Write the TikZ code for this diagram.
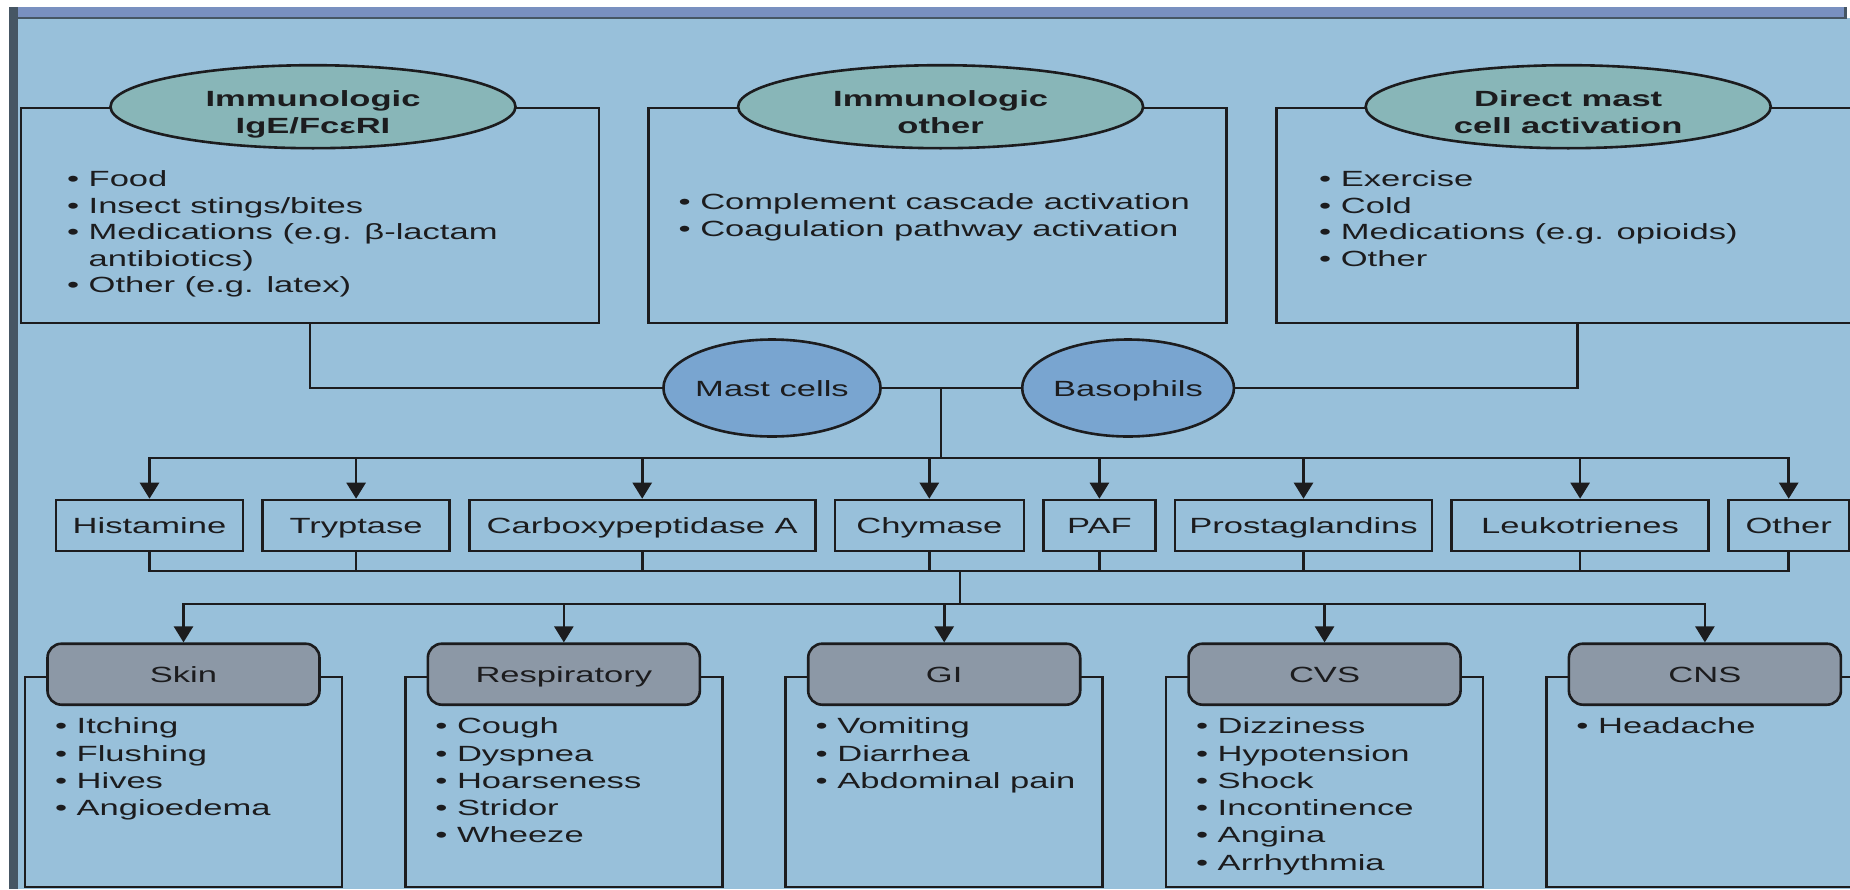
\documentclass[tikz,border=0pt]{standalone}
\usepackage{fontspec}
\setmainfont{Liberation Sans}
\usepackage{graphicx}
\usetikzlibrary{positioning,arrows.meta,shapes.geometric}

\definecolor{ink}{RGB}{28,28,30}
\definecolor{bgblue}{RGB}{152,192,218}
\definecolor{bandblue}{RGB}{121,144,192}
\definecolor{framegray}{RGB}{70,86,100}
\definecolor{headteal}{RGB}{136,182,184}
\definecolor{cellblue}{RGB}{121,165,208}
\definecolor{organgray}{RGB}{140,152,166}

\newcommand{\xs}[1]{\scalebox{1.57}[1]{#1}}
\newcommand{\bl}[1]{\xs{\begin{tabular}[t]{@{}l@{}}#1\end{tabular}}}
\newcommand{\hd}[1]{\xs{\begin{tabular}[t]{@{}c@{}}#1\end{tabular}}}
\newcommand{\bul}{\textbullet\ }

\begin{document}
\begin{tikzpicture}[x=1pt, y=-1pt, line width=2.6pt,
  srcbox/.style={draw=ink, minimum width=578pt, minimum height=215pt, inner sep=0pt},
  srchead/.style={draw=ink, ellipse, fill=headteal, minimum width=405pt, minimum height=83pt, inner sep=0pt},
  headtxt/.style={anchor=base, text=ink, inner sep=0pt, font=\fontsize{22}{27}\selectfont\bfseries},
  srclist/.style={anchor=base west, text=ink, inner sep=0pt, font=\fontsize{22}{26.5}\selectfont},
  cell/.style={draw=ink, ellipse, fill=cellblue, minimum width=193pt, minimum height=97pt, inner sep=0pt,
    text=ink, font=\fontsize{22}{26}\selectfont, text height=16pt, text depth=0pt},
  med/.style={draw=ink, minimum height=51pt, inner sep=0pt, text=ink,
    font=\fontsize{22}{26}\selectfont, text height=16pt, text depth=0pt},
  orgbox/.style={draw=ink, minimum width=317pt, minimum height=210pt, inner sep=0pt},
  orghead/.style={draw=ink, fill=organgray, rounded corners=14pt, minimum width=272pt, minimum height=61pt,
    inner sep=0pt, text=ink, font=\fontsize{22}{26}\selectfont, text height=16pt, text depth=0pt},
  orglist/.style={anchor=base west, text=ink, inner sep=0pt, font=\fontsize{22}{27.3}\selectfont},
  wire/.style={draw=ink},
  arr/.style={draw=ink, -{Triangle[length=16pt,width=19pt]}}]
  \useasboundingbox (0,0) rectangle (1850,889);
  \fill[white] (0,0) rectangle (1850,889);
  \fill[bgblue] (18,18) rectangle (1850,889);
  \fill[bandblue] (18,7) rectangle (1845,17);
  \fill[framegray] (18,16.5) rectangle (1847,19);
  \fill[framegray] (1844,7) rectangle (1847,19);
  \fill[framegray] (9,7) rectangle (18,889);

  \node[srcbox] (ige) at (310,215.5) {};
  \node[srcbox, right=47pt of ige] (imo) {};
  \node[srcbox, right=47pt of imo] (dir) {};
  \node[srchead] (igeHead) at ([xshift=3pt]ige.north) {};
  \node[srchead] (imoHead) at ([xshift=3pt]imo.north) {};
  \node[srchead] (dirHead) at ([xshift=3pt]dir.north) {};
  \node[headtxt] (igeTitle) at (igeHead.center) {\hd{Immunologic\\IgE/FcεRI}};
  \node[headtxt] (imoTitle) at (imoHead.center) {\hd{Immunologic\\other}};
  \node[headtxt] (dirTitle) at (dirHead.center) {\hd{Direct mast\\cell activation}};
  \node[srclist] (igeList) at ([xshift=46pt,yshift=-80pt]ige.north west)
    {\bl{\bul Food\\ \bul Insect stings/bites\\ \bul Medications (e.g. β-lactam\\
      \phantom{\bul}antibiotics)\\ \bul Other (e.g. latex)}};
  \node[srclist] (imoList) at ([xshift=30pt,yshift=-103pt]imo.north west)
    {\bl{\bul Complement cascade activation\\ \bul Coagulation pathway activation}};
  \node[srclist] (dirList) at ([xshift=43pt,yshift=-80pt]dir.north west)
    {\bl{\bul Exercise\\ \bul Cold\\ \bul Medications (e.g. opioids)\\ \bul Other}};

  \node[cell] (mast) at (772,388) {\xs{Mast cells}};
  \node[cell, minimum width=191pt, right=139pt of mast] (baso) {\xs{Basophils}};
  \draw[wire] (ige.south) |- (mast.west);
  \draw[wire] ([xshift=12pt]dir.south) |- (baso.east);
  \draw[wire] (mast.east) -- (baso.west);
  \coordinate (medbus) at (941,458);
  \draw[wire] (mast.east -| medbus) -- (medbus);

  \node[med, minimum width=187pt] (hist) at (149.5,525.5) {\xs{Histamine}};
  \node[med, minimum width=187pt, right=17pt of hist] (tryp) {\xs{Tryptase}};
  \node[med, minimum width=346pt, right=17pt of tryp] (carb) {\xs{Carboxypeptidase A}};
  \node[med, minimum width=189pt, right=17pt of carb] (chym) {\xs{Chymase}};
  \node[med, minimum width=112pt, right=17pt of chym] (paf) {\xs{PAF}};
  \node[med, minimum width=257pt, right=17pt of paf] (pros) {\xs{Prostaglandins}};
  \node[med, minimum width=257pt, right=17pt of pros] (leuk) {\xs{Leukotrienes}};
  \node[med, minimum width=121pt, right=17pt of leuk] (oth) {\xs{Other}};
  \draw[arr] (medbus) -| (hist.north);
  \draw[arr] (medbus) -| (tryp.north);
  \draw[arr] (medbus) -| (carb.north);
  \draw[arr] (medbus) -| (chym.north);
  \draw[arr] (medbus) -| (paf.north);
  \draw[arr] (medbus) -| (pros.north);
  \draw[arr] (medbus) -| (leuk.north);
  \draw[arr] (medbus) -| (oth.north);

  \coordinate (effbus) at (960,571);
  \coordinate (orgbus) at (960,604);
  \draw[wire] (hist.south) |- (effbus);
  \draw[wire] (tryp.south) |- (effbus);
  \draw[wire] (carb.south) |- (effbus);
  \draw[wire] (chym.south) |- (effbus);
  \draw[wire] (paf.south) |- (effbus);
  \draw[wire] (pros.south) |- (effbus);
  \draw[wire] (leuk.south) |- (effbus);
  \draw[wire] (oth.south) |- (effbus);
  \draw[wire] (effbus) -- (orgbus);

  \node[orgbox] (skinBox) at (183.5,782) {};
  \node[orgbox, right=60.75pt of skinBox] (respBox) {};
  \node[orgbox, right=60.75pt of respBox] (giBox) {};
  \node[orgbox, right=60.75pt of giBox] (cvsBox) {};
  \node[orgbox, right=60.75pt of cvsBox] (cnsBox) {};
  \node[orghead] (skin) at ([yshift=1.5pt]skinBox.north) {\xs{Skin}};
  \node[orghead] (resp) at ([yshift=1.5pt]respBox.north) {\xs{Respiratory}};
  \node[orghead] (gi) at ([yshift=1.5pt]giBox.north) {\xs{GI}};
  \node[orghead] (cvs) at ([yshift=1.5pt]cvsBox.north) {\xs{CVS}};
  \node[orghead] (cns) at ([yshift=1.5pt]cnsBox.north) {\xs{CNS}};
  \draw[arr] (orgbus) -| (skin.north);
  \draw[arr] (orgbus) -| (resp.north);
  \draw[arr] (orgbus) -| (gi.north);
  \draw[arr] (orgbus) -| (cvs.north);
  \draw[arr] (orgbus) -| (cns.north);

  \node[orglist] (skinList) at ([xshift=30pt,yshift=-58pt]skinBox.north west)
    {\bl{\bul Itching\\ \bul Flushing\\ \bul Hives\\ \bul Angioedema}};
  \node[orglist] (respList) at ([xshift=30pt,yshift=-58pt]respBox.north west)
    {\bl{\bul Cough\\ \bul Dyspnea\\ \bul Hoarseness\\ \bul Stridor\\ \bul Wheeze}};
  \node[orglist] (giList) at ([xshift=30pt,yshift=-58pt]giBox.north west)
    {\bl{\bul Vomiting\\ \bul Diarrhea\\ \bul Abdominal pain}};
  \node[orglist] (cvsList) at ([xshift=30pt,yshift=-58pt]cvsBox.north west)
    {\bl{\bul Dizziness\\ \bul Hypotension\\ \bul Shock\\ \bul Incontinence\\ \bul Angina\\ \bul Arrhythmia}};
  \node[orglist] (cnsList) at ([xshift=30pt,yshift=-58pt]cnsBox.north west)
    {\bl{\bul Headache}};
\end{tikzpicture}
\end{document}
